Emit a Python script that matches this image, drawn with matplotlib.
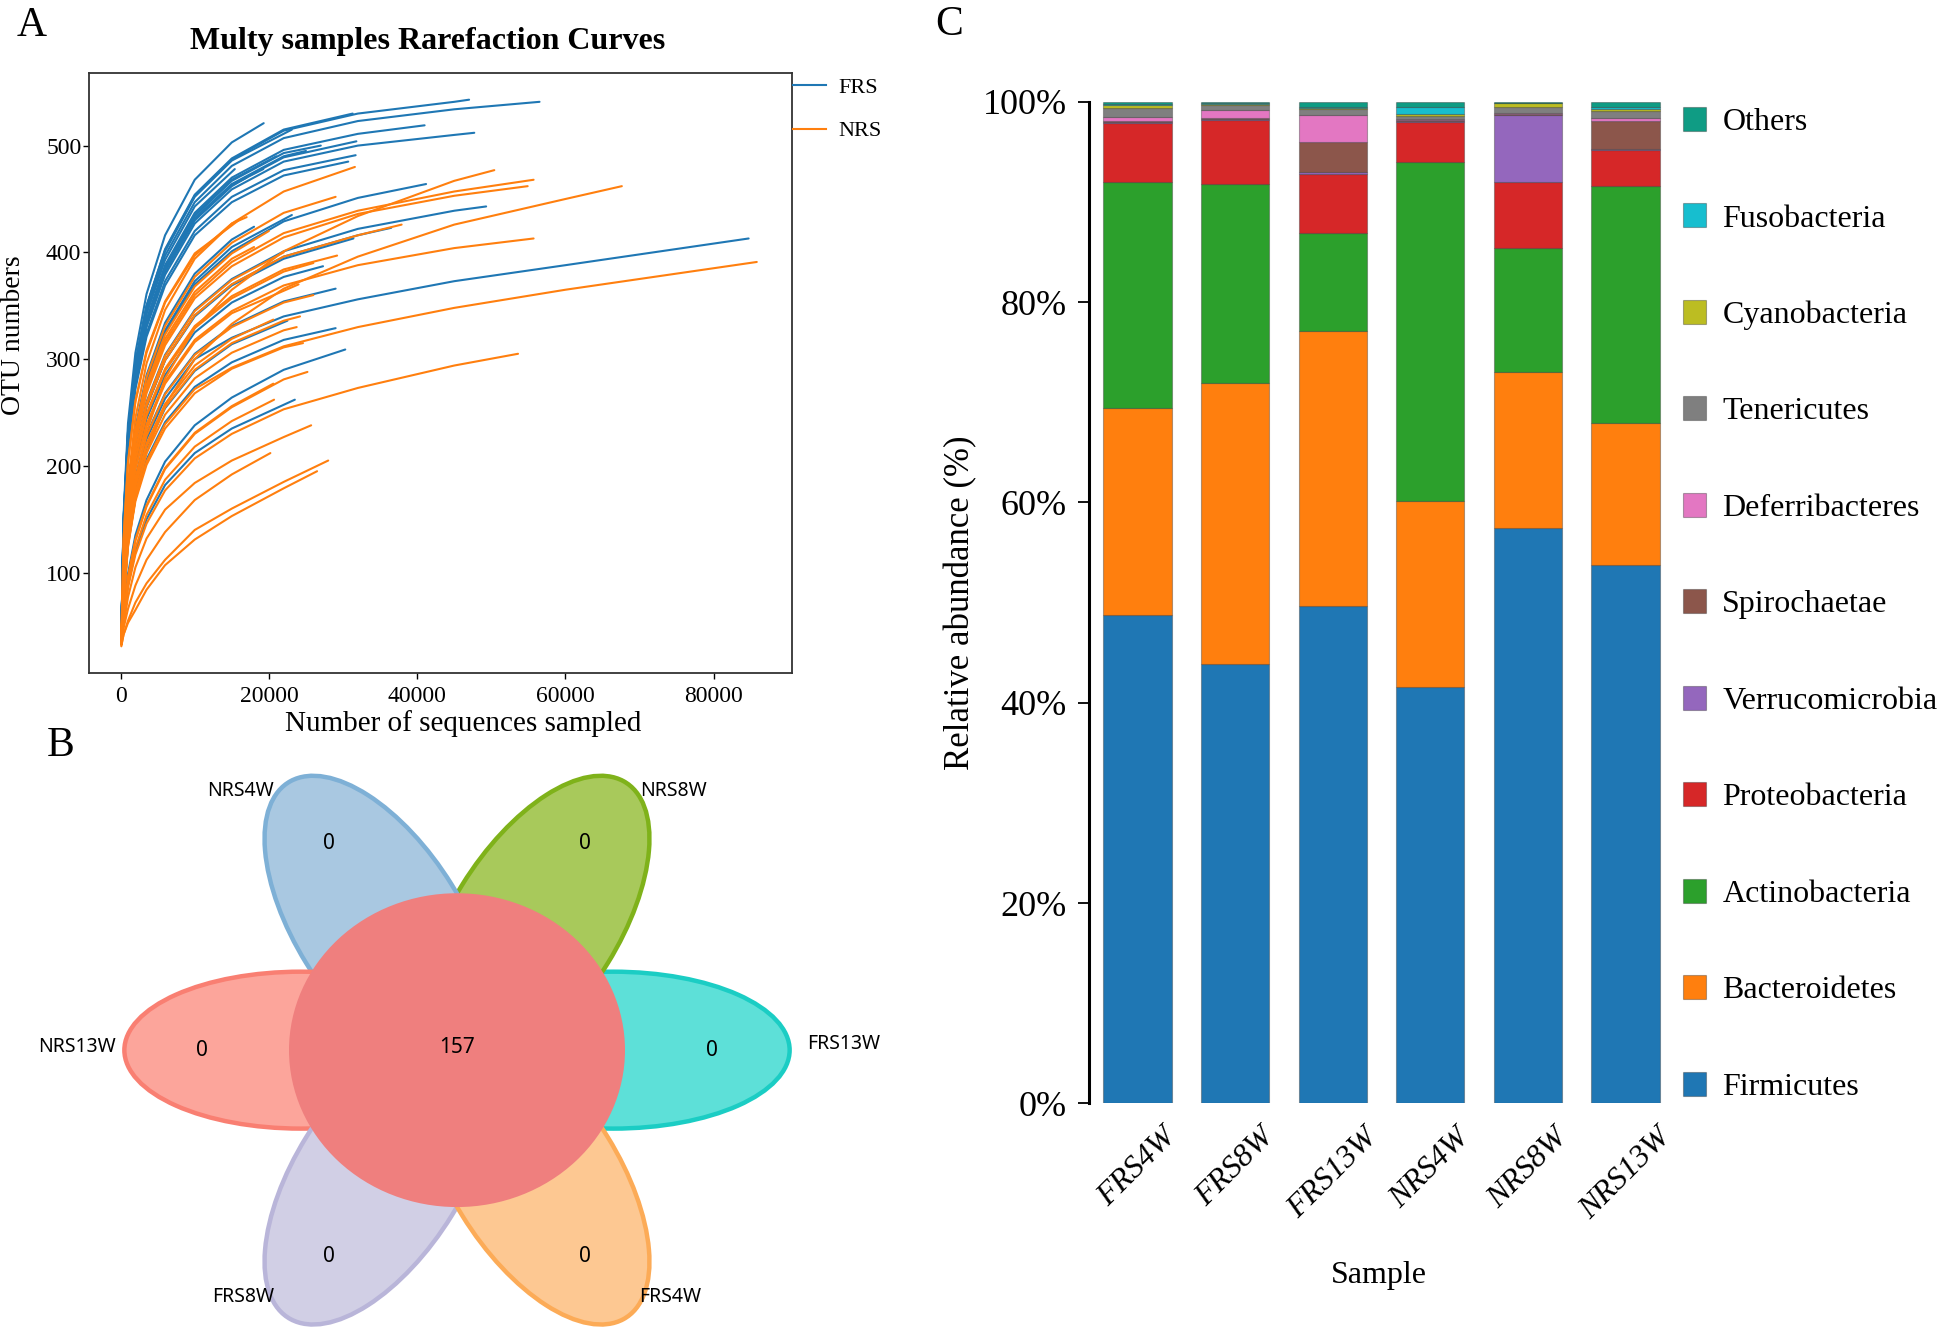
import matplotlib
matplotlib.use('Agg')
import matplotlib.pyplot as plt
from matplotlib.patches import Ellipse, Patch
from matplotlib.lines import Line2D
import numpy as np

plt.rcParams['font.family'] = ['Liberation Serif', 'DejaVu Serif']

# ---------------- DATA ----------------
# Panel A: rarefaction curves, (sequences sampled, OTU numbers)
frs_curves = [
    [(100,38),(400,79),(1000,140),(2000,187),(3500,225),(6000,263),(10000,300),(15000,320),(22000,340),(32000,356),(45000,373),(60000,388),(84700,413)],
    [(100,40),(400,147),(1000,229),(2000,292),(3500,345),(6000,397),(10000,447),(15000,481),(22000,507),(32000,523),(45000,534),(56500,541)],
    [(100,40),(400,149),(1000,232),(2000,296),(3500,350),(6000,402),(10000,453),(15000,487),(22000,514),(32000,530),(45000,541),(47000,543)],
    [(100,40),(400,144),(1000,224),(2000,286),(3500,337),(6000,388),(10000,437),(15000,470),(22000,496),(32000,511),(41000,519)],
    [(100,40),(400,140),(1000,219),(2000,279),(3500,330),(6000,379),(10000,427),(15000,459),(22000,485),(32000,500),(45000,510),(47700,512)],
    [(100,40),(400,149),(1000,232),(2000,297),(3500,350),(6000,403),(10000,454),(15000,488),(22000,515),(31300,530)],
    [(100,40),(400,154),(1000,240),(2000,306),(3500,361),(6000,416),(10000,468),(15000,503),(19300,521)],
    [(100,40),(400,149),(1000,231),(2000,296),(3500,349),(6000,401),(10000,452),(15000,486),(23100,515)],
    [(100,37),(400,98),(1000,172),(2000,230),(3500,278),(6000,325),(10000,370),(15000,401),(22000,429),(32000,451),(41200,464)],
    [(100,37),(400,91),(1000,161),(2000,215),(3500,260),(6000,304),(10000,346),(15000,375),(22000,401),(32000,422),(45000,439),(49300,443)],
    [(100,37),(400,90),(1000,159),(2000,212),(3500,256),(6000,299),(10000,341),(15000,370),(22000,396),(32000,416),(36500,423)],
    [(100,40),(400,138),(1000,215),(2000,275),(3500,324),(6000,373),(10000,420),(15000,452),(22000,477),(31700,491)],
    [(100,40),(400,137),(1000,213),(2000,272),(3500,321),(6000,369),(10000,416),(15000,447),(22000,472),(30700,485)],
    [(100,33),(400,61),(1000,99),(2000,135),(3500,168),(6000,204),(10000,238),(15000,264),(22000,290),(30300,309)],
    [(100,37),(400,72),(1000,128),(2000,170),(3500,206),(6000,241),(10000,274),(15000,297),(22000,318),(29000,329)],
    [(100,33),(400,55),(1000,88),(2000,120),(3500,150),(6000,182),(10000,212),(15000,235),(23500,262)],
    [(100,37),(400,76),(1000,135),(2000,180),(3500,217),(6000,254),(10000,289),(15000,314),(22500,336)],
    [(100,40),(400,142),(1000,221),(2000,282),(3500,333),(6000,383),(10000,431),(15000,463),(22000,489),(31800,504)],
    [(100,40),(400,146),(1000,227),(2000,290),(3500,342),(6000,393),(10000,443),(15400,478)],
    [(100,40),(400,142),(1000,221),(2000,282),(3500,333),(6000,383),(10000,431),(15000,463),(19250,478)],
    [(100,37),(400,98),(1000,174),(2000,232),(3500,280),(6000,327),(10000,373),(15000,405),(23100,435)],
    [(100,37),(400,100),(1000,177),(2000,236),(3500,285),(6000,334),(10000,380),(15000,412),(18000,424)],
    [(100,37),(400,90),(1000,158),(2000,211),(3500,255),(6000,299),(10000,340),(15000,369),(22000,394),(31400,413)],
    [(100,37),(400,86),(1000,151),(2000,202),(3500,244),(6000,285),(10000,325),(15000,353),(22000,377),(27300,387)],
    [(100,37),(400,81),(1000,142),(2000,190),(3500,229),(6000,268),(10000,305),(15000,331),(22000,354),(29000,366)],
    [(100,40),(400,141),(1000,220),(2000,281),(3500,332),(6000,382),(10000,430),(15000,462),(17000,470)],
    [(100,40),(400,143),(1000,223),(2000,284),(3500,336),(6000,386),(10000,435),(15000,468),(21000,490)],
    [(100,40),(400,142),(1000,221),(2000,283),(3500,334),(6000,384),(10000,432),(15000,464),(22000,490),(25000,495)],
    [(100,40),(400,143),(1000,222),(2000,284),(3500,335),(6000,385),(10000,434),(15000,467),(22000,493),(27000,500)],
]
nrs_curves = [
    [(100,36),(400,72),(1000,127),(2000,169),(3500,204),(6000,239),(10000,272),(15000,292),(22000,312),(32000,330),(45000,348),(60000,365),(85800,391)],
    [(100,33),(400,77),(1000,124),(2000,170),(3500,212),(6000,257),(10000,300),(15000,333),(22000,366),(32000,396),(45000,426),(60000,450),(67600,462)],
    [(100,37),(400,95),(1000,168),(2000,224),(3500,270),(6000,316),(10000,360),(15000,391),(22000,418),(32000,439),(45000,457),(55700,468)],
    [(100,37),(400,94),(1000,166),(2000,222),(3500,268),(6000,313),(10000,357),(15000,387),(22000,414),(32000,436),(45000,453),(54900,462)],
    [(100,33),(400,85),(1000,136),(2000,186),(3500,232),(6000,282),(10000,329),(15000,365),(22000,401),(32000,434),(45000,467),(50400,477)],
    [(100,37),(400,84),(1000,148),(2000,198),(3500,239),(6000,279),(10000,318),(15000,345),(22000,369),(32000,388),(45000,404),(55700,413)],
    [(100,33),(400,53),(1000,86),(2000,117),(3500,146),(6000,177),(10000,207),(15000,230),(22000,253),(32000,273),(45000,294),(53600,305)],
    [(100,37),(400,90),(1000,159),(2000,212),(3500,256),(6000,299),(10000,341),(15000,370),(22000,396),(32000,416),(37900,426)],
    [(100,37),(400,104),(1000,184),(2000,245),(3500,296),(6000,346),(10000,394),(15000,427),(22000,457),(31600,480)],
    [(100,37),(400,100),(1000,176),(2000,234),(3500,283),(6000,331),(10000,377),(15000,409),(22000,437),(29000,452)],
    [(100,40),(400,131),(1000,204),(2000,261),(3500,308),(6000,354),(10000,399),(16300,432)],
    [(100,37),(400,87),(1000,154),(2000,206),(3500,249),(6000,291),(10000,331),(15000,359),(22000,384),(29200,397)],
    [(100,37),(400,87),(1000,153),(2000,205),(3500,247),(6000,289),(10000,329),(15000,357),(22000,382),(26000,390)],
    [(100,37),(400,77),(1000,135),(2000,180),(3500,218),(6000,255),(10000,290),(15000,315),(22000,336),(24200,340)],
    [(100,37),(400,74),(1000,131),(2000,175),(3500,212),(6000,248),(10000,282),(15000,306),(22000,327),(23750,330)],
    [(100,37),(400,78),(1000,137),(2000,183),(3500,221),(6000,258),(10000,294),(15000,319),(20600,337)],
    [(100,33),(400,59),(1000,95),(2000,130),(3500,162),(6000,197),(10000,230),(15000,255),(22000,281),(25200,288)],
    [(100,37),(400,71),(1000,125),(2000,167),(3500,201),(6000,235),(10000,268),(15000,291),(22000,311),(24600,315)],
    [(100,33),(400,60),(1000,96),(2000,131),(3500,163),(6000,198),(10000,231),(15000,256),(20600,277)],
    [(100,33),(400,56),(1000,90),(2000,123),(3500,154),(6000,187),(10000,218),(15000,242),(20700,262)],
    [(100,34),(400,50),(1000,77),(2000,105),(3500,132),(6000,159),(10000,184),(15000,205),(22000,227),(25700,238)],
    [(100,33),(400,48),(1000,66),(2000,88),(3500,112),(6000,138),(10000,168),(15000,192),(20200,212)],
    [(100,32),(400,42),(1000,55),(2000,72),(3500,90),(6000,112),(10000,140),(15000,160),(22000,185),(28000,205)],
    [(100,31),(400,42),(1000,53),(2000,65),(3500,84),(6000,107),(10000,131),(15000,153),(22000,179),(26500,195)],
    [(100,37),(400,96),(1000,169),(2000,226),(3500,273),(6000,319),(10000,363),(15000,394),(18000,405)],
    [(100,37),(400,97),(1000,171),(2000,229),(3500,276),(6000,323),(10000,368),(15000,399),(20000,420)],
    [(100,37),(400,91),(1000,161),(2000,215),(3500,259),(6000,303),(10000,345),(15000,374),(22000,400)],
    [(100,37),(400,83),(1000,147),(2000,197),(3500,237),(6000,277),(10000,316),(15000,343),(24000,370)],
    [(100,37),(400,80),(1000,142),(2000,189),(3500,228),(6000,267),(10000,304),(15000,330),(22000,353),(26000,360)],
    [(100,40),(400,131),(1000,203),(2000,260),(3500,306),(6000,353),(10000,397),(15000,427),(17000,433)],
]
group_names = ['FRS', 'NRS']
a_xticks = [0, 20000, 40000, 60000, 80000]
a_yticks = [100, 200, 300, 400, 500]

# Panel B: flower diagram
venn_sets = ['FRS13W', 'NRS8W', 'NRS4W', 'NRS13W', 'FRS8W', 'FRS4W']
venn_unique = [0, 0, 0, 0, 0, 0]
venn_core = 157

# Panel C: relative abundance (%) of phyla per sample
samples = ['FRS4W', 'FRS8W', 'FRS13W', 'NRS4W', 'NRS8W', 'NRS13W']
phyla = ['Firmicutes', 'Bacteroidetes', 'Actinobacteria', 'Proteobacteria',
         'Verrucomicrobia', 'Spirochaetae', 'Deferribacteres', 'Tenericutes',
         'Cyanobacteria', 'Fusobacteria', 'Others']
firmicutes      = [48.8, 43.9, 49.65, 41.6, 57.4, 53.7]
bacteroidetes   = [20.6, 28.0, 27.45, 18.5, 15.6, 14.2]
actinobacteria  = [22.6, 19.9, 9.8, 33.9, 12.4, 23.7]
proteobacteria  = [5.9, 6.4, 5.9, 4.0, 6.6, 3.6]
verrucomicrobia = [0.05, 0.05, 0.15, 0.05, 6.7, 0.1]
spirochaetae    = [0.1, 0.15, 3.0, 0.1, 0.1, 2.8]
deferribacteres = [0.45, 0.8, 2.7, 0.1, 0.05, 0.3]
tenericutes     = [0.9, 0.5, 0.6, 0.3, 0.6, 0.7]
cyanobacteria   = [0.3, 0.1, 0.15, 0.25, 0.45, 0.2]
fusobacteria    = [0.05, 0.05, 0.1, 0.7, 0.0, 0.2]
others          = [0.25, 0.15, 0.5, 0.5, 0.1, 0.5]
c_yticks = [0, 20, 40, 60, 80, 100]

# ---------------- STYLE / LAYOUT ----------------
W, H = 1944, 1328
fig = plt.figure(figsize=(W / 100, H / 100), dpi=100)
fig.patch.set_facecolor('white')

def rect(l, t, r, b):
    return [l / W, 1 - b / H, (r - l) / W, (b - t) / H]

def fx(px):
    return px / W

def fy(py):
    return 1 - py / H

blue, orange = '#1f77b4', '#ff7f0e'

# ---------------- PANEL A ----------------
axA = fig.add_axes(rect(89, 73, 792, 673))
for c in frs_curves:
    xs, ys = zip(*c)
    axA.plot(xs, ys, color=blue, lw=1.5, solid_capstyle='round', solid_joinstyle='round')
for c in nrs_curves:
    xs, ys = zip(*c)
    axA.plot(xs, ys, color=orange, lw=1.5, solid_capstyle='round', solid_joinstyle='round')
axA.set_xlim(-4260, 90550)
axA.set_ylim(6, 568)
axA.set_xticks(a_xticks)
axA.set_xticklabels([str(v) for v in a_xticks])
axA.set_yticks(a_yticks)
axA.set_yticklabels([str(v) for v in a_yticks])
for s in axA.spines.values():
    s.set_color('#333333')
    s.set_linewidth(1.3)
axA.tick_params(axis='x', direction='out', length=4.5, width=1, labelsize=17, pad=5)
axA.tick_params(axis='y', direction='out', length=4.5, width=1, labelsize=17, pad=1)
legA = axA.legend([Line2D([], [], color=blue, lw=1.5), Line2D([], [], color=orange, lw=1.5)],
                  group_names, loc='upper left', bbox_to_anchor=(fx(793), fy(77)),
                  bbox_transform=fig.transFigure, frameon=False, fontsize=16,
                  handlelength=1.5, handletextpad=0.55, labelspacing=1.05,
                  borderpad=0, borderaxespad=0)
fig.text(fx(428), fy(42), 'Multy samples Rarefaction Curves', ha='center', va='center',
         fontsize=23, fontweight='bold')
fig.text(fx(14), fy(335), 'OTU numbers', rotation=90, ha='center', va='center', fontsize=20)
fig.text(fx(463), fy(724), 'Number of sequences sampled', ha='center', va='center', fontsize=21)

# ---------------- PANEL B ----------------
axB = fig.add_axes(rect(3.4, 752, 910.6, 1324.75))
axB.set_xlim(-2.7, 2.7)
axB.set_ylim(-1.75, 1.9)
axB.set_aspect('auto')
axB.axis('off')
petal_angles = [0, 60, 120, 180, 240, 300]
petal_fill = ['#5de0d8', '#a8c95b', '#a9c8e1', '#fca59b', '#d1cfe5', '#fdc892']
petal_edge = ['#1bcdc4', '#7fb21a', '#7eb0d6', '#f97f72', '#b9b5d9', '#fcab57']
label_pos = [(2.30, 0.04), (1.29, 1.65), (-1.29, 1.65), (-2.26, 0.02), (-1.27, -1.57), (1.27, -1.57)]
vfont = ['Noto Sans', 'DejaVu Sans']
for name, n, ang, fc, ec, lp in zip(venn_sets, venn_unique, petal_angles, petal_fill, petal_edge, label_pos):
    t = np.deg2rad(ang)
    e = Ellipse((0.93 * np.cos(t), 0.93 * np.sin(t)), 2.1, 1.0, angle=ang,
                facecolor=fc, edgecolor=ec, lw=3.2, clip_on=False)
    axB.add_patch(e)
    axB.text(1.52 * np.cos(t), 1.52 * np.sin(t), str(n), ha='center', va='center',
             fontsize=15, family=vfont)
    axB.text(lp[0], lp[1], name, ha='center', va='center', fontsize=14, family=vfont)
axB.add_patch(Ellipse((0, 0), 2.0, 2.0, facecolor='#ef7f7e', edgecolor='none', clip_on=False))
axB.text(0, 0.02, str(venn_core), ha='center', va='center', fontsize=15, family=vfont)

# ---------------- PANEL C ----------------
axC = fig.add_axes(rect(1089, 101.7, 1662, 1103.4))
values = [firmicutes, bacteroidetes, actinobacteria, proteobacteria, verrucomicrobia,
          spirochaetae, deferribacteres, tenericutes, cyanobacteria, fusobacteria, others]
colors = ['#1f77b4', '#ff7f0e', '#2ca02c', '#d62728', '#9467bd', '#8c564b',
          '#e377c2', '#7f7f7f', '#bcbd22', '#17becf', '#0f9c84']
x = np.arange(len(samples))
bottom = np.zeros(len(samples))
handles = []
for name, vals, col in zip(phyla, values, colors):
    vals = np.array(vals)
    axC.bar(x, vals, width=0.7, bottom=bottom, color=col,
            edgecolor=(0.15, 0.15, 0.15, 0.35), linewidth=0.8)
    bottom += vals
    handles.append(Patch(facecolor=col, edgecolor=(0.15, 0.15, 0.15, 0.35), linewidth=0.8))
axC.set_xlim(-0.498, 5.374)
axC.set_ylim(0, 100)
for side in ['top', 'right', 'bottom']:
    axC.spines[side].set_visible(False)
axC.spines['left'].set_linewidth(2.2)
axC.spines['left'].set_bounds(0, 100)
axC.set_yticks(c_yticks)
axC.set_yticklabels([f'{v}%' for v in c_yticks])
axC.tick_params(axis='y', direction='out', length=8, width=1.3, labelsize=26, pad=8)
axC.set_xticks(x)
axC.set_xticklabels(samples, rotation=45, ha='center', va='top', fontstyle='italic', fontsize=23)
axC.tick_params(axis='x', length=0, pad=14)
fig.text(fx(961), fy(603), 'Relative abundance (%)', rotation=90, ha='center', va='center', fontsize=25)
fig.text(fx(1379), fy(1275), 'Sample', ha='center', va='center', fontsize=23)
legC = axC.legend(handles[::-1], phyla[::-1], loc='upper left',
                  bbox_to_anchor=(fx(1683), fy(107)), bbox_transform=fig.transFigure,
                  frameon=False, fontsize=23, handlelength=0.73, handleheight=0.77,
                  handletextpad=0.5, labelspacing=2.08, borderpad=0, borderaxespad=0)

# Panel letters
fig.text(fx(32), fy(36), 'A', ha='center', va='baseline', fontsize=30)
fig.text(fx(61), fy(756), 'B', ha='center', va='baseline', fontsize=30)
fig.text(fx(949), fy(35), 'C', ha='center', va='baseline', fontsize=30)

fig.savefig('out.png', dpi=100, facecolor='white')
